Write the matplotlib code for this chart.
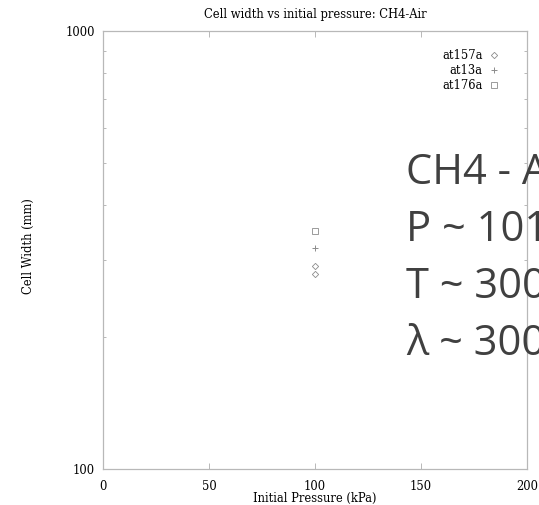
import matplotlib
matplotlib.use("Agg")
import matplotlib.pyplot as plt
from matplotlib.ticker import FixedLocator, FixedFormatter, NullFormatter

# data
pressure_157a = [100, 100]
width_157a = [291, 279]
pressure_13a = [100]
width_13a = [320]
pressure_176a = [100]
width_176a = [350]

xticks = [0, 50, 100, 150, 200]
note_lines = ["CH4 - Air", "P ~ 101 kPa", "T ~ 300 K", "\u03bb ~ 300 mm"]

axis_grey = "#b8b8b8"
mark_grey = "#8c8c8c"
serif = "DejaVu Serif"
fs = 8.3

fig = plt.figure(figsize=(5.39, 5.05), dpi=100)
ax = fig.add_axes([0.1911, 0.0713, 0.7866, 0.8673])

ax.plot(pressure_157a, width_157a, linestyle="none", marker="D", markersize=3.2,
        markerfacecolor="none", markeredgecolor=mark_grey, markeredgewidth=0.6, label="at157a")
ax.plot(pressure_13a, width_13a, linestyle="none", marker="+", markersize=5,
        color=mark_grey, markeredgewidth=0.7, label="at13a")
ax.plot(pressure_176a, width_176a, linestyle="none", marker="s", markersize=3.8,
        markerfacecolor="none", markeredgecolor=mark_grey, markeredgewidth=0.6, label="at176a")

ax.set_yscale("log")
ax.set_xlim(0, 200)
ax.set_ylim(100, 1000)

ax.xaxis.set_major_locator(FixedLocator(xticks))
ax.yaxis.set_major_locator(FixedLocator([100, 1000]))
ax.yaxis.set_major_formatter(FixedFormatter(["100", "1000"]))
ax.yaxis.set_minor_locator(FixedLocator([200, 300, 400, 500, 600, 700, 800, 900]))
ax.yaxis.set_minor_formatter(NullFormatter())

ax.tick_params(axis="x", which="major", direction="in", length=4, width=0.7,
               color=axis_grey, top=True, pad=8, labelsize=fs)
ax.tick_params(axis="y", which="major", direction="in", length=0, pad=6, labelsize=fs)
ax.tick_params(axis="y", which="minor", direction="in", length=2.5, width=0.7,
               color=axis_grey, right=True)
for lab in ax.get_xticklabels() + ax.get_yticklabels():
    lab.set_fontfamily(serif)

for sp in ax.spines.values():
    sp.set_color(axis_grey)
    sp.set_linewidth(0.9)

ax.set_title("Cell width vs initial pressure: CH4-Air", fontsize=fs,
             family=serif, pad=9.5)
ax.set_xlabel("Initial Pressure (kPa)", fontsize=fs, family=serif, labelpad=-0.5)
ax.set_ylabel("Cell Width (mm)", fontsize=fs, family=serif)
ax.yaxis.set_label_coords(-0.16, 0.51)

leg = ax.legend(loc="upper right", bbox_to_anchor=(0.946, 0.97), frameon=False,
                markerfirst=False, prop={"family": serif, "size": fs},
                handlelength=1.0, handletextpad=0.45, labelspacing=0.2,
                borderaxespad=0)

# overlaid note text (runs off the right edge in the reference)
for i, line in enumerate(note_lines):
    fig.text(406 / 539, 1 - (173 + 57 * i) / 505, line, fontsize=30,
             family="Open Sans", color="#404040", va="center", ha="left")

fig.savefig("out.png", dpi=100)
